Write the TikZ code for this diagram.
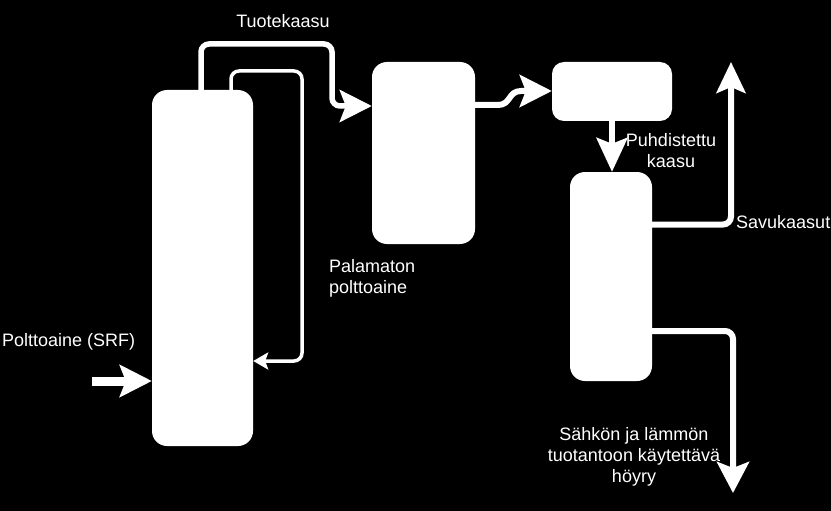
\documentclass[tikz,border=0pt]{standalone}
\usepackage{fontspec}
\setmainfont{Liberation Sans}
\usetikzlibrary{arrows.meta}
\begin{document}
\begin{tikzpicture}[x=1pt,y=-1pt,
  box/.style={draw=none,fill=white,rounded corners=15pt,inner sep=0pt,minimum width=#1},
  lbl/.style={text=white,inner sep=0pt,font=\fontsize{18}{21}\selectfont},
  flow/.style={draw=white,line width=#1,rounded corners=8pt},
  bighead/.style={-{Stealth[length=32pt,width=32pt,inset=6pt]}},
  smallhead/.style={-{Stealth[length=15pt,width=17pt,inset=3pt]}}]
\fill[black] (0,0) rectangle (831,511);
\useasboundingbox (0,0) rectangle (831,511);
% process boxes
\node[box=101pt,minimum height=356pt] (gas) at (202.5,268) {};
\node[box=103pt,minimum height=182pt] (comb) at (423.5,153) {};
\node[box=120pt,minimum height=59pt,rounded corners=12pt] (clean) at (612,91.5) {};
\node[box=82pt,minimum height=209pt] (boil) at (611,276.5) {};
% free ends
\coordinate (fuel) at (92,381);
\coordinate (flue) at (731,62);
\coordinate (steam) at (733,493);
% connectors
\draw[flow=5.5pt,bighead] (201,0 |- gas.north) -- (201,44) -- (332,44) -- (332,106) -- (comb.west |- 0,106);
\draw[flow=3.5pt,smallhead] (231,0 |- gas.north) -- (231,71) -- (302,71) -- (302,361) -- (gas.east |- 0,361);
\draw[flow=9pt,bighead] (fuel) -- (gas.west |- fuel);
\draw[draw=white,line width=6pt,bighead] (comb.east |- 0,105) -- (498,105) .. controls (511,105) and (508,91) .. (521,91) -- (clean.west |- 0,91);
\draw[flow=5.5pt,-{Stealth[length=34pt,width=31pt,inset=6pt]}] (clean.south) -- (clean.south |- boil.north);
\draw[flow=6pt,-{Stealth[length=31pt,width=29pt,inset=6pt]}] (boil.east |- 0,224.5) -- (flue |- 0,224.5) -- (flue);
\draw[flow=6pt,-{Stealth[length=31pt,width=32pt,inset=6pt]}] (boil.east |- 0,331) -- (steam |- 0,331) -- (steam);
% labels
\node[lbl] (tk) at (283,21) {Tuotekaasu};
\node[lbl,align=left,anchor=west] (pp) at (329,278) {Palamaton\\polttoaine};
\node[lbl,anchor=west] (srf) at (2,342) {Polttoaine (SRF)};
\node[lbl,align=center] (pk) at (671,151) {Puhdistettu\\kaasu};
\node[lbl,anchor=west] (sk) at (736,222) {Savukaasut};
\node[lbl,align=center] (hy) at (634,457) {Sähkön ja lämmön\\tuotantoon käytettävä\\höyry};
\end{tikzpicture}
\end{document}
